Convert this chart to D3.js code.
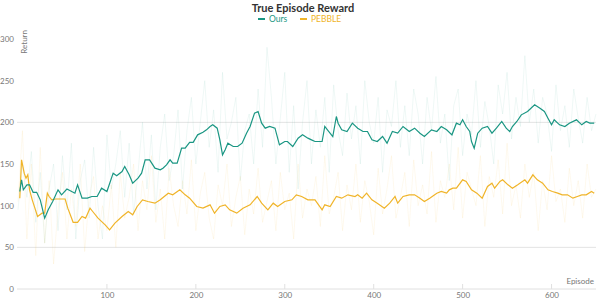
<!DOCTYPE html>
<html>
<head>
<meta charset="utf-8">
<script src="https://cdn.jsdelivr.net/npm/d3@7"></script>
<style>
  html, body { margin: 0; padding: 0; background: #fff; }
  svg text { font-family: Lato, "Open Sans", sans-serif; }
</style>
</head>
<body>
<svg id="chart" width="606" height="304"></svg>
<script>
// smoothed curves
const oursEpisodes = [2,4,6,10,13,17,21,25,30,34,39,45,49,55,64,67,72,78,83,89,94,100,107,111,117,120,125,129,135,139,143,148,154,160,163,167,171,174,179,184,188,193,197,202,208,212,216,219,224,227,230,233,236,242,247,252,257,261,266,270,274,278,283,289,294,300,303,309,315,320,326,330,334,342,345,348,354,358,360,364,370,376,382,388,393,398,404,410,415,421,427,433,440,446,452,457,465,471,476,482,488,493,497,500,504,508,510,513,517,522,528,533,538,544,549,553,556,561,566,573,581,587,592,596,600,603,609,615,620,628,634,639,643,648];
const oursReturn = [117,131,119,125,125,116,116,107,85,95,105,119,113,120,115,125,109,109,111,111,121,117,139,136,141,147,137,127,133,139,155,155,145,143,145,149,155,151,151,169,169,176,176,185,188,191,195,197,193,179,161,167,175,171,171,175,187,195,211,213,199,193,195,193,173,177,177,171,181,185,181,179,177,177,195,191,183,207,199,191,189,199,193,189,189,179,177,183,175,189,187,195,189,193,187,183,191,189,195,191,185,199,197,203,195,189,177,169,187,193,195,187,193,201,193,189,195,201,209,213,221,217,213,205,197,203,197,195,199,203,197,201,199,199];

const pebbleEpisodes = [2,4,7,9,11,13,16,19,22,27,30,33,35,38,42,45,49,53,56,62,67,72,76,81,84,90,98,103,109,117,124,129,134,140,146,154,160,169,174,182,188,193,201,208,216,221,227,233,238,246,253,261,269,274,281,287,292,300,308,313,319,326,334,342,345,351,358,364,371,379,382,387,392,398,404,412,418,424,427,433,440,446,452,457,463,471,476,482,485,489,493,500,504,510,516,522,528,533,536,542,545,551,556,562,570,573,579,584,590,596,601,607,612,618,624,629,634,639,645,648];
const pebbleReturn = [109,155,139,133,137,119,107,97,87,91,91,115,111,107,108,108,108,108,97,80,80,87,85,97,93,85,77,71,79,87,93,89,99,107,105,103,107,115,113,119,113,109,99,97,101,91,99,101,95,91,97,101,111,103,95,103,99,105,107,113,111,107,107,95,101,99,111,109,113,111,113,109,115,107,103,97,103,111,103,111,113,113,109,105,109,115,117,115,119,121,121,131,129,119,115,109,123,127,121,129,131,125,121,125,131,127,137,131,127,119,117,115,113,113,109,111,113,113,117,115];

// raw per-episode returns (every 5th episode), faint background
const rawStep = 5;
const oursRaw = [95,150,110,165,80,140,55,120,150,70,160,95,175,60,130,155,85,170,100,60,185,120,150,190,110,175,90,140,200,120,185,95,170,210,130,160,215,120,190,230,150,200,250,170,215,140,260,180,200,230,130,190,210,150,240,170,290,230,150,205,260,140,220,120,200,250,150,215,170,230,140,245,190,160,235,180,220,150,250,200,175,230,140,215,195,250,170,220,160,240,210,150,230,190,255,175,210,130,220,240,160,210,185,250,170,225,195,150,245,210,260,180,230,195,280,200,240,175,230,210,165,245,190,220,170,240,205,175,230,190,210];
const pebbleRaw = [105,190,60,150,40,170,55,130,30,95,140,60,120,75,150,45,110,135,60,100,70,125,50,140,85,110,150,70,130,95,160,80,120,60,145,100,75,130,90,155,70,115,140,85,60,125,100,150,75,110,135,65,120,90,145,80,105,130,70,140,95,115,60,150,85,120,100,135,75,160,90,110,140,70,125,95,150,80,130,105,65,145,90,120,160,85,110,140,75,155,100,125,90,165,80,130,110,150,95,170,85,140,120,100,160,75,135,110,155,90,175,100,125,85,150,110,140,70,130,95,160,105,120,80,145,100,130,85,150,110,120];

const xTicks = [100, 200, 300, 400, 500, 600];
const yTicks = [0, 50, 100, 150, 200, 250, 300];
const gridValues = [50, 200];

const seriesNames = ["Ours", "PEBBLE"];
const teal = "#1a9683";
const gold = "#f0b429";

const svg = d3.select("#chart");

const x = d3.scaleLinear().domain([0, 650]).range([18, 596]);
const y = d3.scaleLinear().domain([0, 300]).range([289, 39]);

// grid
svg.append("g")
  .selectAll("line")
  .data(gridValues)
  .enter()
  .append("line")
  .attr("x1", x(0) - 1)
  .attr("x2", x(650))
  .attr("y1", d => y(d))
  .attr("y2", d => y(d))
  .attr("stroke", "#e3e3e3")
  .attr("stroke-width", 1);

const line = d3.line()
  .x(d => x(d[0]))
  .y(d => y(d[1]));

const rawPts = arr => arr.map((v, i) => [i * rawStep, v]);

svg.append("path")
  .attr("d", line(rawPts(oursRaw)))
  .attr("fill", "none")
  .attr("stroke", teal)
  .attr("stroke-opacity", 0.07)
  .attr("stroke-width", 1);

svg.append("path")
  .attr("d", line(rawPts(pebbleRaw)))
  .attr("fill", "none")
  .attr("stroke", gold)
  .attr("stroke-opacity", 0.08)
  .attr("stroke-width", 1);

// x axis
const xAxis = svg.append("g")
  .attr("transform", `translate(0,${y(0)})`)
  .call(d3.axisBottom(x).tickValues(xTicks).tickSize(0).tickPadding(3));
xAxis.select(".domain")
  .attr("stroke", "#e0e0e0")
  .attr("d", `M${x(0) - 1},0H${x(650)}`);
xAxis.selectAll("text")
  .attr("fill", "#777")
  .style("font-size", "8px");

svg.append("g")
  .selectAll("line")
  .data(xTicks)
  .enter()
  .append("line")
  .attr("x1", d => x(d))
  .attr("x2", d => x(d))
  .attr("y1", y(0) - 5)
  .attr("y2", y(0))
  .attr("stroke", "#e0e0e0");

// y axis labels
const yAxis = svg.append("g")
  .attr("transform", "translate(14,0)")
  .call(d3.axisLeft(y).tickValues(yTicks).tickSize(0).tickPadding(0));
yAxis.select(".domain").remove();
yAxis.selectAll("text")
  .attr("fill", "#777")
  .style("font-size", "8px");

// smoothed lines
svg.append("path")
  .attr("d", line(pebbleEpisodes.map((e, i) => [e, pebbleReturn[i]])))
  .attr("fill", "none")
  .attr("stroke", gold)
  .attr("stroke-width", 1.2);

svg.append("path")
  .attr("d", line(oursEpisodes.map((e, i) => [e, oursReturn[i]])))
  .attr("fill", "none")
  .attr("stroke", teal)
  .attr("stroke-width", 1.2);

// titles
svg.append("text")
  .attr("x", 303)
  .attr("y", 12)
  .attr("text-anchor", "middle")
  .attr("fill", "#333")
  .style("font-size", "11px")
  .style("font-weight", "bold")
  .text("True Episode Reward");

svg.append("text")
  .attr("transform", "translate(27,30) rotate(-90)")
  .attr("text-anchor", "end")
  .attr("fill", "#777")
  .style("font-size", "8px")
  .text("Return");

svg.append("text")
  .attr("x", 594)
  .attr("y", 284)
  .attr("text-anchor", "end")
  .attr("fill", "#777")
  .style("font-size", "8px")
  .text("Episode");

// legend
const legendX = [258, 300];
const legendColors = [teal, gold];
const legend = svg.append("g")
  .selectAll("g")
  .data(seriesNames)
  .enter()
  .append("g")
  .attr("transform", (d, i) => `translate(${legendX[i]},19)`);
legend.append("rect")
  .attr("x", 0)
  .attr("y", -1)
  .attr("width", 7)
  .attr("height", 2)
  .attr("fill", (d, i) => legendColors[i]);
legend.append("text")
  .attr("x", 11)
  .attr("y", 3)
  .attr("fill", (d, i) => legendColors[i])
  .style("font-size", "8.5px")
  .text(d => d);
</script>
</body>
</html>
